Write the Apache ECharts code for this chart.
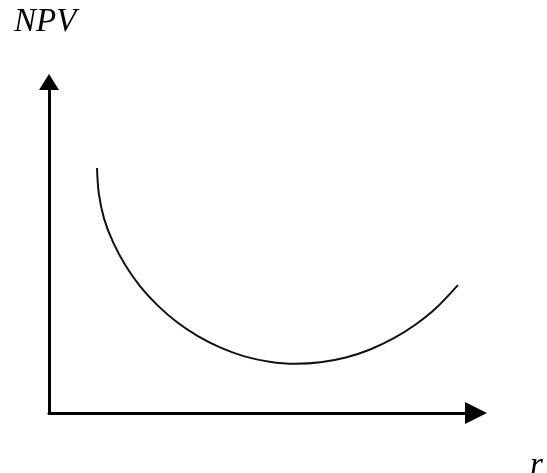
<!DOCTYPE html>
<html>
<head>
<meta charset="utf-8">
<style>
  html, body { margin: 0; padding: 0; background: #fff; }
  #chart { width: 547px; height: 473px; }
</style>
<script src="https://cdn.jsdelivr.net/npm/echarts@6/dist/echarts.min.js"></script>
</head>
<body>
<div id="chart"></div>
<script>
// Discount rate (r) and net present value along the U-shaped NPV profile
var rates = [11.24, 11.68, 12.93, 15.10, 17.96, 21.40, 25.44, 29.93, 34.87, 40.18,
             45.79, 51.64, 57.61, 63.60, 69.50, 75.21, 80.66, 85.78, 90.53, 95.76];
var npv   = [74.02, 66.22, 58.57, 51.30, 44.49, 38.17, 32.51, 27.47, 23.21, 19.73,
             17.11, 15.49, 14.86, 15.31, 16.76, 19.20, 22.53, 26.66, 31.55, 38.64];

var axisTitleY = 'NPV';
var axisTitleX = 'r';

var points = rates.map(function (r, i) { return [r, npv[i]]; });

var chart = echarts.init(document.getElementById('chart'), null, { renderer: 'canvas' });

var axisCommon = {
  type: 'value',
  min: 0,
  max: 100,
  axisTick: { show: false },
  axisLabel: { show: false },
  splitLine: { show: false }
};

var titleFont = 'italic 33px "Liberation Serif", "DejaVu Serif", serif';

chart.setOption({
  backgroundColor: '#ffffff',
  animation: false,
  grid: { left: 49, right: 71, top: 82, bottom: 60, containLabel: false },
  xAxis: Object.assign({}, axisCommon, {
    axisLine: {
      show: true,
      symbol: ['none', 'triangle'],
      symbolSize: [22, 22],
      lineStyle: { color: '#000', width: 3 }
    }
  }),
  yAxis: Object.assign({}, axisCommon, {
    axisLine: {
      show: true,
      symbol: ['none', 'triangle'],
      symbolSize: [20, 16],
      lineStyle: { color: '#000', width: 3 }
    }
  }),
  graphic: [
    {
      type: 'text',
      left: 14,
      top: 6,
      style: { text: axisTitleY, font: titleFont, fill: '#000' }
    },
    {
      type: 'text',
      left: 530,
      top: 450,
      style: { text: axisTitleX, font: titleFont, fill: '#000' }
    }
  ],
  series: [{
    type: 'line',
    data: points,
    smooth: 0.33,
    showSymbol: false,
    lineStyle: { color: '#111', width: 2 }
  }]
});
</script>
</body>
</html>
